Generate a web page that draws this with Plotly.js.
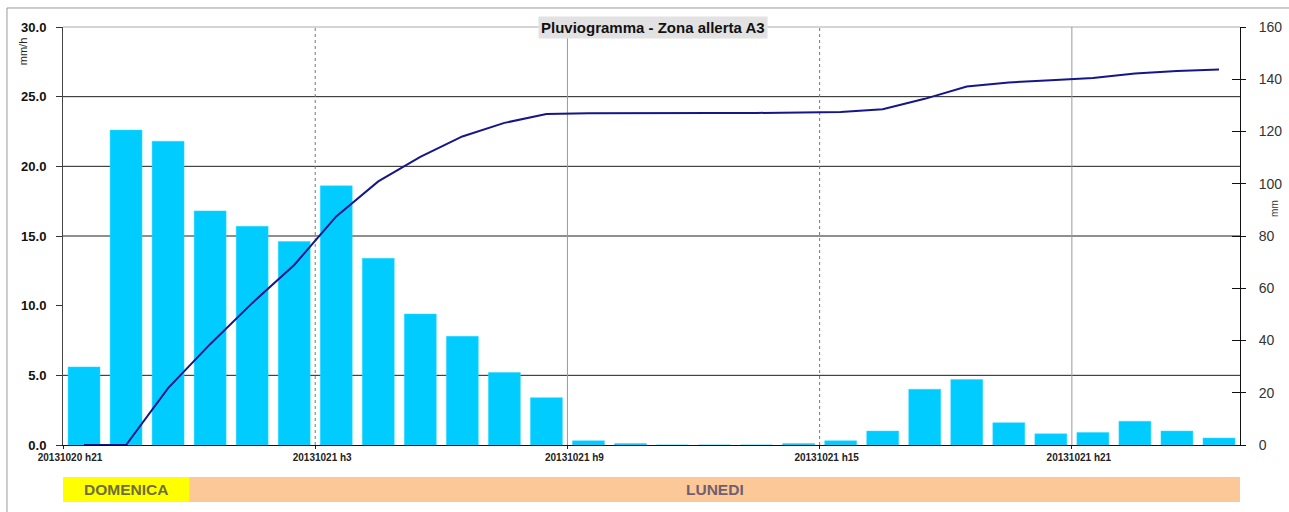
<!DOCTYPE html>
<html>
<head>
<meta charset="utf-8">
<script src="https://cdn.plot.ly/plotly-3.0.1.min.js"></script>
<style>
  html, body { margin: 0; padding: 0; background: #fff; }
  #chart { width: 1289px; height: 512px; }
</style>
</head>
<body>
<div id="chart"></div>
<script>
// ---- data ----
const hours = [
  "20131020 h21", "20131020 h22", "20131020 h23",
  "20131021 h0", "20131021 h1", "20131021 h2", "20131021 h3", "20131021 h4", "20131021 h5",
  "20131021 h6", "20131021 h7", "20131021 h8", "20131021 h9", "20131021 h10", "20131021 h11",
  "20131021 h12", "20131021 h13", "20131021 h14", "20131021 h15", "20131021 h16", "20131021 h17",
  "20131021 h18", "20131021 h19", "20131021 h20", "20131021 h21", "20131021 h22", "20131021 h23",
  "20131022 h0"
];
// hourly rainfall intensity (mm/h, left axis)
const rainRate = [5.6, 22.6, 21.8, 16.8, 15.7, 14.6, 18.6, 13.4, 9.4, 7.8, 5.2, 3.4, 0.3, 0.1,
                  0, 0, 0, 0.1, 0.3, 1.0, 4.0, 4.7, 1.6, 0.8, 0.9, 1.7, 1.0, 0.5];
// cumulated rainfall (mm, right axis)
const rainCum = [0, 0, 21.8, 38.6, 54.3, 68.9, 87.5, 100.9, 110.3, 118.1, 123.3, 126.7, 127.0, 127.1,
                 127.1, 127.1, 127.1, 127.2, 127.5, 128.5, 132.5, 137.2, 138.8, 139.6, 140.5, 142.2, 143.2, 143.7];
const tickIndex = [0, 6, 12, 18, 24];
const dayNames = ["DOMENICA", "LUNEDI"];
const dayStart = [0, 3];
const dayEnd = [3, 28];
const dayColors = ["#ffff00", "#fdc898"];
const dayTextColors = ["#6e6e3c", "#6e6070"];
const chartTitle = "Pluviogramma - Zona allerta A3";

// ---- build ----
const xs = hours.map((h, i) => i + 0.5);
const FONT = "Liberation Sans, Arial, sans-serif";

const traces = [
  {
    type: "bar", x: xs, y: rainRate, yaxis: "y",
    marker: { color: "#00ccff", line: { color: "#33d6ff", width: 0.5 } },
    hoverinfo: "skip", showlegend: false
  },
  {
    type: "scatter", mode: "lines", x: xs, y: rainCum, yaxis: "y2",
    line: { color: "#16168a", width: 2 },
    hoverinfo: "skip", showlegend: false
  },
  { // dummy for inside ticks on right axis
    type: "scatter", mode: "lines", x: [0], y: [0], yaxis: "y3",
    line: { width: 0 }, hoverinfo: "skip", showlegend: false, opacity: 0
  }
];

const shapes = [];
// horizontal grid lines (as seen in reference)
[5, 15, 20, 25].forEach(v => shapes.push({
  type: "line", xref: "paper", x0: 0, x1: 1, yref: "y", y0: v, y1: v,
  line: { color: "#1e1e1e", width: 1 }, layer: "below"
}));
// top border of the plot
shapes.push({ type: "line", xref: "paper", x0: 0, x1: 1, yref: "paper", y0: 1, y1: 1,
  line: { color: "#aaa", width: 1 }, layer: "below" });
// vertical lines at 6-hour boundaries
tickIndex.slice(1).forEach((t, k) => shapes.push({
  type: "line", xref: "x", x0: t, x1: t, yref: "paper", y0: 0, y1: 1,
  line: { color: k % 2 === 0 ? "#777" : "#999", width: 1, dash: k % 2 === 0 ? "dot" : "solid" },
  layer: "below"
}));
// day bands
dayNames.forEach((d, i) => shapes.push({
  type: "rect", xref: "x", x0: dayStart[i] - (i === 0 ? 0.07 : 0), x1: dayEnd[i] + (i === 1 ? 0.1 : 0),
  yref: "paper", y0: -0.1364, y1: -0.0766,
  fillcolor: dayColors[i], line: { width: 0 }, layer: "above"
}));
// outer frame
shapes.push({ type: "rect", xref: "paper", yref: "paper", x0: -0.0476, x1: 1.3, y0: -0.6, y1: 1.0455,
  line: { color: "#999", width: 1 }, fillcolor: "rgba(0,0,0,0)", layer: "below" });

const annotations = [
  { text: "<b>" + chartTitle + "</b>", xref: "paper", yref: "paper", x: 0.501, y: 0.999,
    xanchor: "center", yanchor: "middle", showarrow: false,
    font: { family: FONT, size: 15, color: "#111" }, bgcolor: "#e2e2e2", borderpad: 2 },
  { text: "mm/h", xref: "paper", yref: "paper", x: -0.034, y: 0.942, textangle: -90,
    xanchor: "center", yanchor: "middle", showarrow: false,
    font: { family: FONT, size: 11, color: "#222" } },
  { text: "mm", xref: "paper", yref: "paper", x: 1.0297, y: 0.567, textangle: -90,
    xanchor: "center", yanchor: "middle", showarrow: false,
    font: { family: FONT, size: 10, color: "#333" } }
];
dayNames.forEach((d, i) => annotations.push({
  text: "<b>" + d + "</b>", xref: "x", yref: "paper",
  x: (dayStart[i] + dayEnd[i]) / 2, y: -0.1065,
  xanchor: "center", yanchor: "middle", showarrow: false,
  font: { family: FONT, size: 15.5, color: dayTextColors[i] }
}));

const layout = {
  width: 1289, height: 512,
  margin: { l: 63, r: 49, t: 27, b: 67, pad: 0 },
  paper_bgcolor: "#ffffff", plot_bgcolor: "#ffffff",
  bargap: 0.24,
  font: { family: FONT },
  xaxis: {
    range: [0, 28], showgrid: false, zeroline: false,
    tickmode: "array", tickvals: tickIndex, ticktext: tickIndex.map(i => hours[i]),
    ticks: "outside", ticklen: 3, tickcolor: "#222",
    ticklabelshift: 7,
    showline: true, linecolor: "#111", linewidth: 1,
    tickfont: { family: FONT, size: 10, color: "#222", weight: "bold" },
    fixedrange: true
  },
  yaxis: {
    range: [0, 30], dtick: 5, tickformat: ".1f", showgrid: false, zeroline: false,
    ticks: "outside", ticklen: 6, tickcolor: "#333",
    showline: true, linecolor: "#444", linewidth: 1,
    tickfont: { family: FONT, size: 13, color: "#111", weight: "bold" },
    ticklabelstandoff: 7,
    fixedrange: true
  },
  yaxis2: {
    overlaying: "y", side: "right", range: [0, 160], dtick: 20,
    showgrid: false, zeroline: false,
    ticks: "outside", ticklen: 5, tickcolor: "#111",
    showline: true, linecolor: "#111", linewidth: 1,
    tickfont: { family: FONT, size: 14, color: "#333" },
    ticklabelstandoff: 10,
    fixedrange: true
  },
  yaxis3: {
    overlaying: "y", side: "right", range: [0, 160], dtick: 20,
    showgrid: false, zeroline: false, showticklabels: false,
    ticks: "inside", ticklen: 8, tickcolor: "#111", showline: false,
    fixedrange: true
  },
  shapes: shapes,
  annotations: annotations,
  showlegend: false
};

Plotly.newPlot("chart", traces, layout, { staticPlot: true, displayModeBar: false });
</script>
</body>
</html>
